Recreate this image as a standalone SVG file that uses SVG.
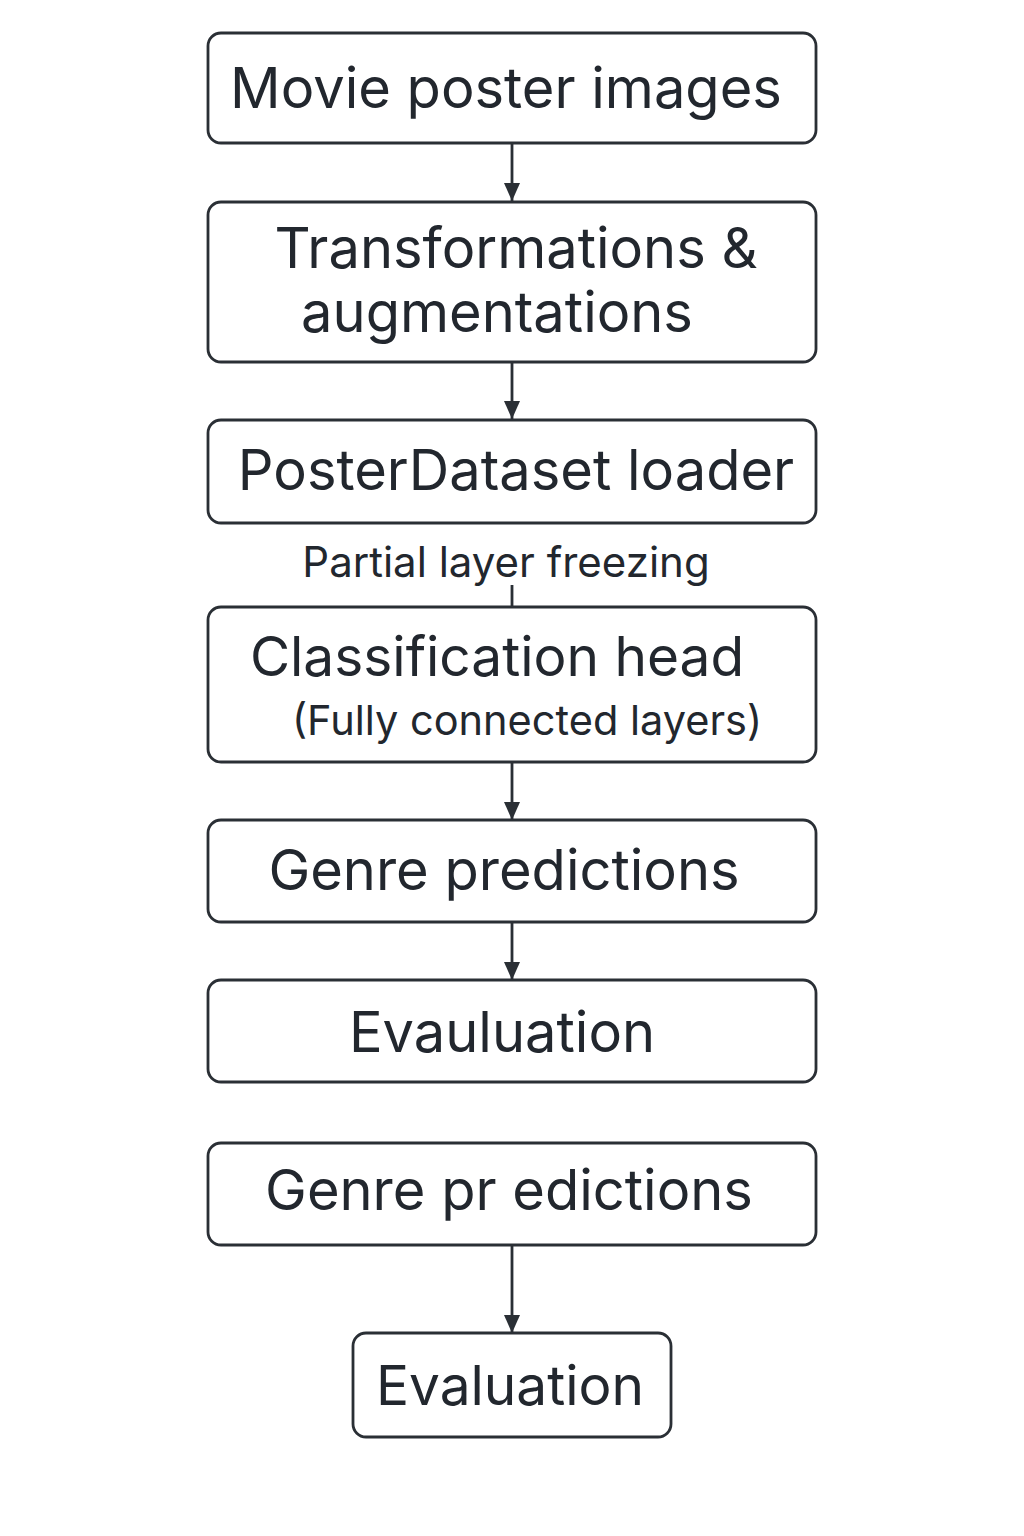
<svg xmlns="http://www.w3.org/2000/svg" width="1024" height="1536" viewBox="0 0 1024 1536">
<defs>
<style>
.box{fill:#fff;stroke:#2a2f35;stroke-width:2.8}
.t{font-family:Inter,"Noto Sans","Liberation Sans",sans-serif;fill:#22272e;text-anchor:middle}
.conn{stroke:#2a2f35;stroke-width:2.8;fill:none}
</style>
<marker id="arr" viewBox="0 0 18 16" refX="18" refY="8" markerWidth="18" markerHeight="16" markerUnits="userSpaceOnUse" orient="auto">
<path d="M0,0 L18,8 L0,16 Z" fill="#2a2f35"/>
</marker>
</defs>
<rect width="1024" height="1536" fill="#fff"/>
<g id="connectors">
<line class="conn" x1="512" y1="143" x2="512" y2="201" marker-end="url(#arr)"/>
<line class="conn" x1="512" y1="362" x2="512" y2="419" marker-end="url(#arr)"/>
<line class="conn" x1="512" y1="585" x2="512" y2="607"/>
<line class="conn" x1="512" y1="762" x2="512" y2="820" marker-end="url(#arr)"/>
<line class="conn" x1="512" y1="922" x2="512" y2="980" marker-end="url(#arr)"/>
<line class="conn" x1="512" y1="1245" x2="512" y2="1333" marker-end="url(#arr)"/>
</g>
<g id="n1"><rect class="box" x="208" y="33" width="608" height="110" rx="13"/><text class="t" x="506" y="108" font-size="56">Movie poster images</text></g>
<g id="n2"><rect class="box" x="208" y="202" width="608" height="160" rx="13"/><text class="t" x="516" y="268" font-size="56">Transformations &amp;</text><text class="t" x="497" y="332" font-size="56">augmentations</text></g>
<g id="n3"><rect class="box" x="208" y="420" width="608" height="103" rx="13"/><text class="t" x="516" y="490" font-size="56">PosterDataset loader</text></g>
<g id="lbl"><text class="t" x="506" y="577" font-size="42">Partial layer freezing</text></g>
<g id="n4"><rect class="box" x="208" y="607" width="608" height="155" rx="13"/><text class="t" x="497" y="676" font-size="55">Classification head</text><text class="t" x="527" y="735" font-size="41.5">(Fully connected layers)</text></g>
<g id="n5"><rect class="box" x="208" y="820" width="608" height="102" rx="13"/><text class="t" x="504" y="890" font-size="56">Genre predictions</text></g>
<g id="n6"><rect class="box" x="208" y="980" width="608" height="102" rx="13"/><text class="t" x="502" y="1052" font-size="56">Evauluation</text></g>
<g id="n7"><rect class="box" x="208" y="1143" width="608" height="102" rx="13"/><text class="t" x="509" y="1210" font-size="56">Genre pr edictions</text></g>
<g id="n8"><rect class="box" x="353" y="1333" width="318" height="104" rx="13"/><text class="t" x="510" y="1405" font-size="55">Evaluation</text></g>
</svg>
